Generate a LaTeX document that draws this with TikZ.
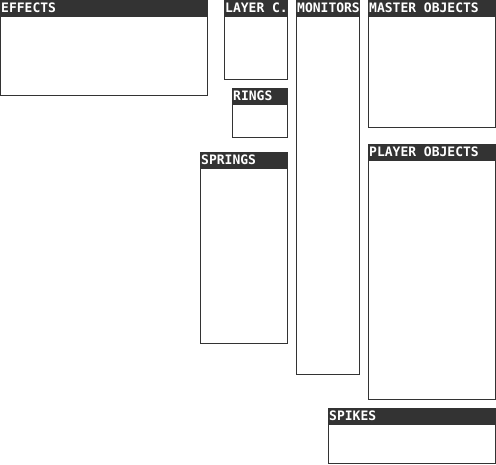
\documentclass[tikz,border=0pt]{standalone}
\usepackage{fontspec}
\newfontfamily\pixfont{DejaVu Sans Mono}[BoldFont={DejaVu Sans Mono Bold}]
\definecolor{panel}{HTML}{333333}
\begin{document}
\begin{tikzpicture}[x=1pt,y=-1pt,
  panelbox/.style={draw=panel,line width=1pt,fill=white},
  panelhead/.style={fill=panel,draw=panel,line width=1pt},
  paneltitle/.style={inner sep=0pt,anchor=base west,text=white,font=\pixfont\bfseries\fontsize{13}{13}\selectfont}]
\useasboundingbox (0,0) rectangle (496,464);
% #1 name, #2 x0, #3 y0, #4 x1, #5 y1, #6 title
\newcommand\mypanel[6]{%
  \path[panelbox] (#2+0.5,#3+0.5) rectangle (#4-0.5,#5-0.5);
  \path[panelhead] (#2+0.5,#3+0.5) rectangle (#4-0.5,#3+16);
  \node[paneltitle] (#1) at (#2+1,#3+12) {#6};
}
\mypanel{effects}{0}{0}{208}{96}{EFFECTS}
\mypanel{layerc}{224}{0}{288}{80}{LAYER C.}
\mypanel{monitors}{296}{0}{360}{375}{MONITORS}
\mypanel{master}{368}{0}{496}{128}{MASTER OBJECTS}
\mypanel{rings}{232}{88}{288}{138}{RINGS}
\mypanel{springs}{200}{152}{288}{344}{SPRINGS}
\mypanel{player}{368}{144}{496}{400}{PLAYER OBJECTS}
\mypanel{spikes}{328}{408}{496}{464}{SPIKES}
\end{tikzpicture}
\end{document}
